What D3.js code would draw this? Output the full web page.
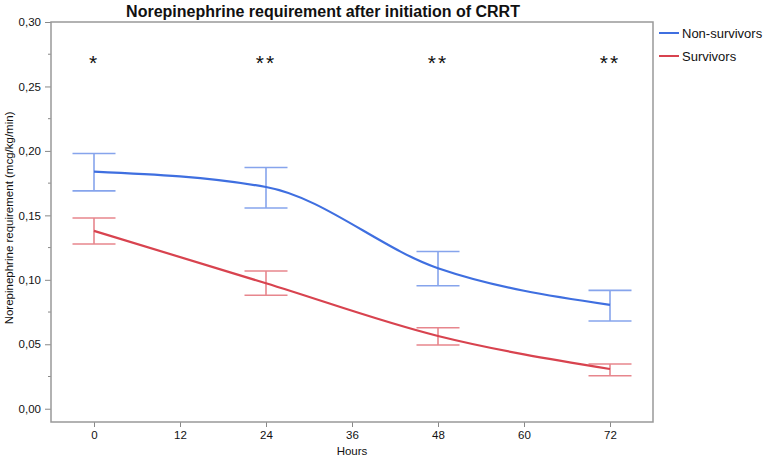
<!DOCTYPE html>
<html lang="en">
<head>
<meta charset="UTF-8">
<title>Norepinephrine requirement</title>
<script src="https://cdn.jsdelivr.net/npm/d3@7"></script>
<style>
html,body {margin:0;padding:0;background:#fff;}
svg text {font-family:"Liberation Sans", Arial, sans-serif;fill:#111;}
</style>
</head>
<body>
<div id="chart"></div>
<script>
// data
const hours = [0, 24, 48, 72];
const nonSurvMean = [0.184, 0.172, 0.109, 0.0805];
const nonSurvLow  = [0.169, 0.1557, 0.0954, 0.068];
const nonSurvHigh = [0.198, 0.1871, 0.122, 0.0918];
const survMean = [0.138, 0.0973, 0.0564, 0.0308];
const survLow  = [0.1278, 0.088, 0.0494, 0.0256];
const survHigh = [0.148, 0.1068, 0.0628, 0.0347];
const stars = ["*", "**", "**", "**"];
const xTicks = [0, 12, 24, 36, 48, 60, 72];
const yTicks = [0, 0.05, 0.10, 0.15, 0.20, 0.25, 0.30];
const yMinor = [0.025, 0.075, 0.125, 0.175, 0.225, 0.275];

const W = 767, H = 459;
const m = {left: 51, top: 22, right: 114, bottom: 37};

const svg = d3.select('#chart').append('svg')
	.attr('width', W)
	.attr('height', H);

const x = d3.scaleLinear().domain([-6, 78]).range([m.left, W - m.right]);
const y = d3.scaleLinear().domain([-0.0103, 0.30]).range([H - m.bottom, m.top]);

const fmt = d => d3.format('.2f')(d).replace('.', ',');

// title
svg.append('text')
	.attr('x', 323).attr('y', 17)
	.attr('text-anchor', 'middle')
	.style('font-size', '16px')
	.style('font-weight', 'bold')
	.text('Norepinephrine requirement after initiation of CRRT');

// y axis ticks
const gY = svg.append('g').attr('transform', 'translate(' + m.left + ',0)');
gY.call(d3.axisLeft(y).tickValues(yTicks).tickSize(6).tickPadding(4).tickFormat(fmt));
gY.selectAll('.tick text').style('font-size', '11.5px');
gY.selectAll('.tick line').attr('stroke', '#888');
gY.select('.domain').remove();
gY.selectAll('.minor').data(yMinor).enter().append('line')
	.attr('class', 'minor')
	.attr('x1', -3).attr('x2', 0)
	.attr('y1', d => y(d)).attr('y2', d => y(d))
	.attr('stroke', '#888');

// x axis ticks
const gX = svg.append('g').attr('transform', 'translate(0,' + (H - m.bottom) + ')');
gX.call(d3.axisBottom(x).tickValues(xTicks).tickSize(5).tickPadding(4));
gX.selectAll('.tick text').style('font-size', '11.5px');
gX.selectAll('.tick line').attr('stroke', '#888');
gX.select('.domain').remove();

// frame
svg.append('rect')
	.attr('x', m.left).attr('y', m.top)
	.attr('width', W - m.right - m.left)
	.attr('height', H - m.bottom - m.top)
	.attr('fill', 'none')
	.attr('stroke', '#999')
	.attr('stroke-width', 1.5);

// axis labels
svg.append('text')
	.attr('x', x(36)).attr('y', 455)
	.attr('text-anchor', 'middle')
	.style('font-size', '11.5px')
	.text('Hours');
svg.append('text')
	.attr('transform', 'translate(13,' + y(0.148) + ') rotate(-90)')
	.attr('text-anchor', 'middle')
	.style('font-size', '11.5px')
	.text('Norepinephrine requirement (mcg/kg/min)');

const series = [
	{name: 'Non-survivors', mean: nonSurvMean, low: nonSurvLow, high: nonSurvHigh, color: '#3f6fe0', bar: '#86a4ec'},
	{name: 'Survivors', mean: survMean, low: survLow, high: survHigh, color: '#d8434f', bar: '#e7868d'}
];

const line = d3.line()
	.x((d, i) => x(hours[i]))
	.y(d => y(d))
	.curve(d3.curveMonotoneX);

const capW = 21.5;
series.forEach(s => {
	const g = svg.append('g');
	hours.forEach((h, i) => {
		const cx = x(h);
		g.append('line').attr('x1', cx).attr('x2', cx)
			.attr('y1', y(s.low[i])).attr('y2', y(s.high[i]))
			.attr('stroke', s.bar).attr('stroke-width', 1.6);
		[s.low[i], s.high[i]].forEach(v => {
			g.append('line').attr('x1', cx - capW).attr('x2', cx + capW)
				.attr('y1', y(v)).attr('y2', y(v))
				.attr('stroke', s.bar).attr('stroke-width', 1.6);
		});
	});
	g.append('path')
		.datum(s.mean)
		.attr('d', line)
		.attr('fill', 'none')
		.attr('stroke', s.color)
		.attr('stroke-width', 2.2);
});

// significance stars
svg.selectAll('.star').data(stars).enter().append('text')
	.attr('class', 'star')
	.attr('x', (d, i) => x(hours[i]))
	.attr('y', 70)
	.attr('text-anchor', 'middle')
	.style('font-size', '21px')
	.style('letter-spacing', '2px')
	.text(d => d);

// legend
const leg = svg.append('g').attr('transform', 'translate(659,0)');
series.forEach((s, i) => {
	const ly = 33 + i * 23;
	leg.append('line').attr('x1', 0).attr('x2', 20)
		.attr('y1', ly).attr('y2', ly)
		.attr('stroke', s.color).attr('stroke-width', 2);
	leg.append('text').attr('x', 23).attr('y', ly + 5)
		.style('font-size', '13px')
		.text(s.name);
});
</script>
</body>
</html>
